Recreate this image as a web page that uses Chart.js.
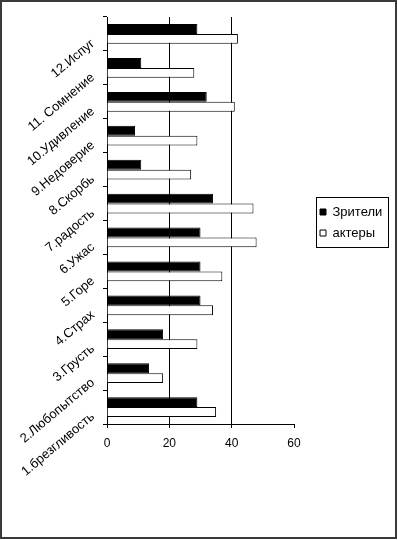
<!DOCTYPE html>
<html>
<head>
<meta charset="utf-8">
<script src="https://cdn.jsdelivr.net/npm/chart.js@4/dist/chart.umd.min.js"></script>
<style>
    html, body { margin: 0; padding: 0; background: #fff; }
    #wrap { width: 398px; height: 540px; }
</style>
</head>
<body>
<div id="wrap"><canvas id="myChart" width="398" height="540"></canvas></div>
<script>
// categories listed bottom to top, as in the picture
const categories = ['1.брезгливость', '2.Любопытство', '3.Грусть', '4.Страх', '5.Горе', '6.Ужас',
    '7.радость', '8.Скорбь', '9.Недоверие', '10.Удивление', '11. Сомнение', '12.Испуг'];
const viewers = [29, 13.5, 18, 30, 30, 30, 34, 11, 9, 32, 11, 29];
const actors = [35, 18, 29, 34, 37, 48, 47, 27, 29, 41, 28, 42];
const xTicks = [0, 20, 40, 60];

// outer frame and box round the legend
const framePlugin = {
    id: 'frame',
    afterLayout(chart) {
        // legend sits a little away from the plot, like in the original
        const lg = chart.legend;
        lg.left += 18;
        lg.right += 18;
        lg.top += 2;
        lg.bottom += 2;
    },
    afterDraw(chart) {
        const ctx = chart.ctx;
        ctx.save();
        ctx.strokeStyle = '#3a3a3a';
        ctx.lineWidth = 2;
        ctx.strokeRect(1, 1, 395, 537);

        const boxes = chart.legend.legendHitBoxes;
        if (boxes && boxes.length) {
            let l = Infinity, t = Infinity, r = -Infinity, b = -Infinity;
            boxes.forEach(h => {
                l = Math.min(l, h.left);
                t = Math.min(t, h.top);
                r = Math.max(r, h.left + h.width);
                b = Math.max(b, h.top + h.height);
            });
            ctx.strokeStyle = '#000';
            ctx.lineWidth = 1;
            ctx.strokeRect(Math.round(l - 4) + 0.5, Math.round(t - 9) + 0.5, Math.round(r - l + 10), Math.round(b - t + 16));
        }
        ctx.restore();
    }
};

document.addEventListener('DOMContentLoaded', function () {
    Chart.defaults.font.family = "'Liberation Sans', Arial, sans-serif";
    Chart.defaults.font.size = 12;
    Chart.defaults.color = '#000';

    new Chart('myChart', {
        type: 'bar',
        data: {
            labels: categories.slice().reverse(),
            datasets: [{
                label: 'Зрители',
                data: viewers.slice().reverse(),
                backgroundColor: '#000',
                borderColor: '#000',
                borderWidth: 1
            }, {
                label: 'актеры',
                data: actors.slice().reverse(),
                backgroundColor: '#fff',
                borderColor: '#000',
                borderWidth: 1
            }]
        },
        options: {
            indexAxis: 'y',
            responsive: false,
            animation: false,
            events: [],
            categoryPercentage: 0.58,
            barPercentage: 1.0,
            layout: { padding: { top: 17, left: 0, right: 18, bottom: 0 } },
            plugins: {
                legend: {
                    position: 'right',
                    fullSize: false,
                    labels: {
                        boxWidth: 6,
                        boxHeight: 6,
                        padding: 8,
                        font: { size: 13 }
                    }
                },
                tooltip: { enabled: false }
            },
            scales: {
                x: {
                    min: 0,
                    max: 60,
                    afterBuildTicks: scale => { scale.ticks = xTicks.map(v => ({ value: v })); },
                    afterFit: scale => {
                        scale.height = 116;
                        scale.paddingRight = 104;
                    },
                    border: { display: true, color: '#000', width: 1 },
                    grid: {
                        color: c => (c.tick && c.tick.value === 60) ? 'rgba(0,0,0,0)' : '#000',
                        tickColor: '#000',
                        tickLength: 4,
                        lineWidth: 1
                    },
                    ticks: { padding: 8, font: { size: 12 }, maxRotation: 0 }
                },
                y: {
                    afterFit: scale => {
                        scale.width = 107;
                        scale.paddingTop = 0;
                        scale.paddingBottom = 0;
                    },
                    border: { display: true, color: '#000', width: 1 },
                    grid: {
                        drawOnChartArea: false,
                        color: '#000',
                        tickLength: 4
                    },
                    ticks: {
                        autoSkip: false,
                        minRotation: 40,
                        maxRotation: 40,
                        padding: 10,
                        labelOffset: 8,
                        font: { size: 13 }
                    }
                }
            }
        },
        plugins: [framePlugin]
    });
});
</script>
</body>
</html>
